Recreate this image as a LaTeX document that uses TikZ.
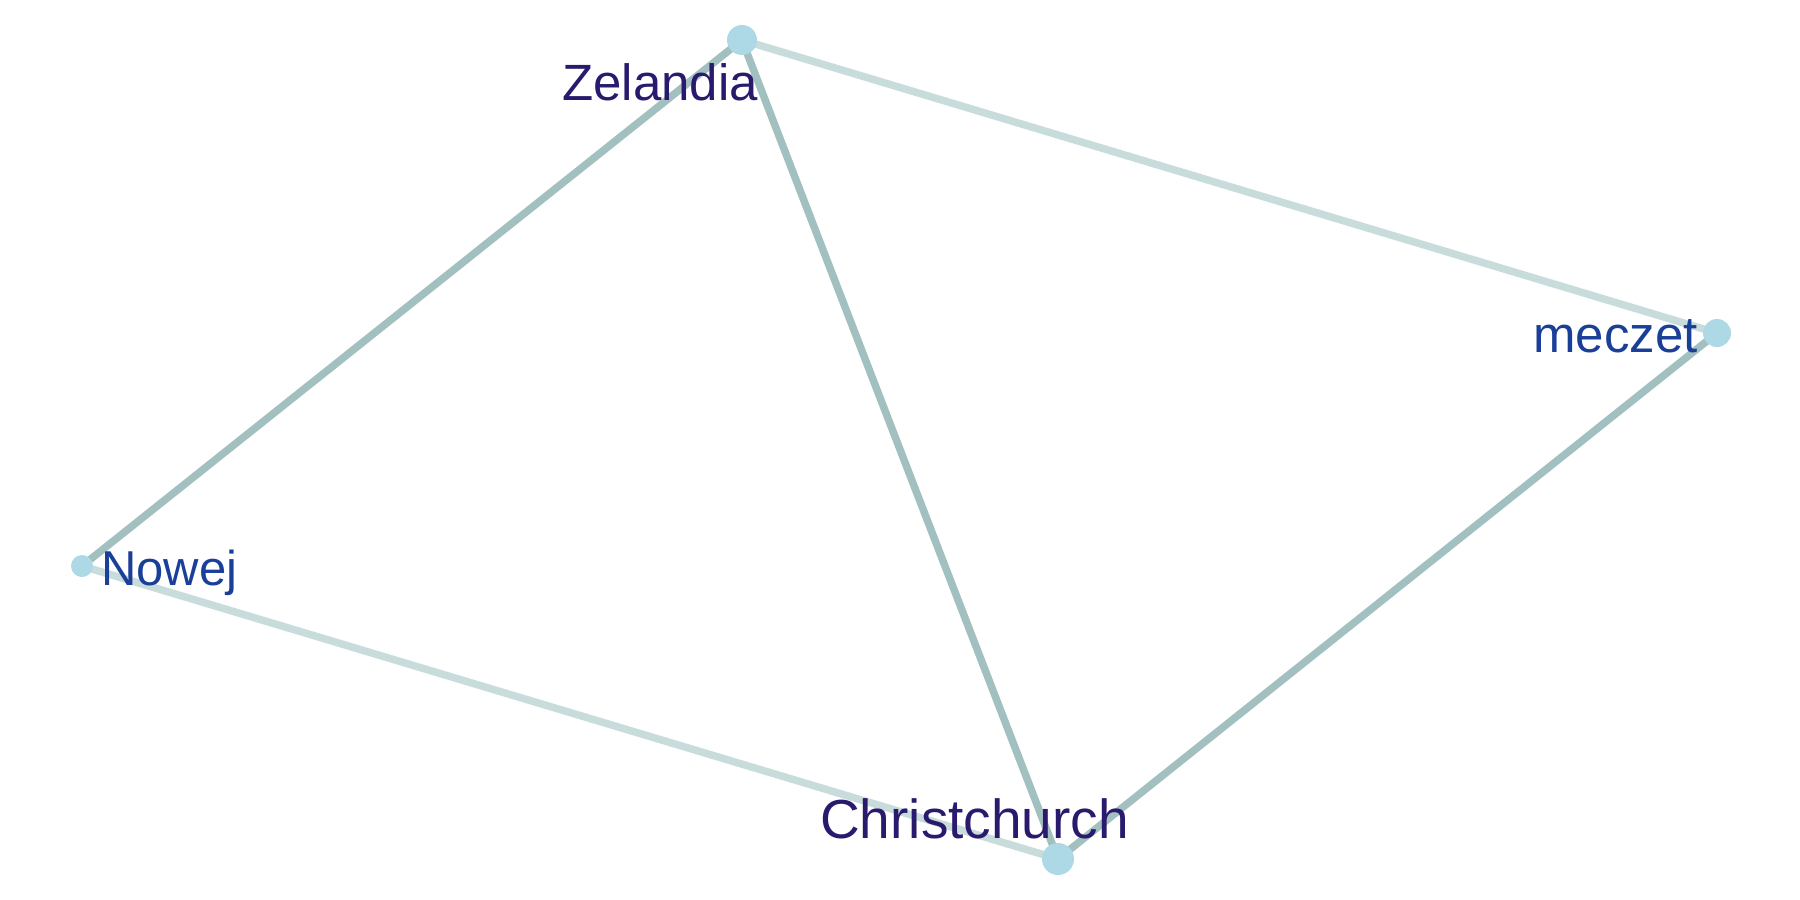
\documentclass[tikz,border=0pt]{standalone}
\usepackage{fontspec}
\setmainfont{Liberation Sans}
\usepackage{tikz}
\usetikzlibrary{positioning,backgrounds}
\definecolor{dotblue}{HTML}{ADD8E6}
\definecolor{edgedark}{HTML}{A3C0C0}
\definecolor{edgelight}{HTML}{C9DCDC}
\definecolor{inkpurple}{HTML}{2A1A6E}
\definecolor{inkblue}{HTML}{1A3F99}
\tikzset{
    word/.style={
           circle,
           fill=dotblue,
           inner sep=0pt,
           },
    tag/.style={
           inner sep=0pt,
           },
    link/.style={
           line width=7.5pt,
           },
}

\begin{document}
\begin{tikzpicture}[x=1pt,y=-1pt]

 % frame of the picture
 \useasboundingbox (0,0) rectangle (1800,900);

 % the words as dots
 \node[word,minimum size=30pt] (ZEL) at (742,40)  {};
 \node[word,minimum size=28pt] (MEC) at (1717,333) {};
 \node[word,minimum size=22pt] (NOW) at (82,566)  {};
 \node[word,minimum size=32pt] (CHR) at (1058,859) {};

 % links between the words, below the dots
 \begin{scope}[on background layer]
 \draw[link,edgelight] (ZEL.center) -- (MEC.center);
 \draw[link,edgelight] (NOW.center) -- (CHR.center);
 \draw[link,edgedark]  (ZEL.center) -- (NOW.center);
 \draw[link,edgedark]  (ZEL.center) -- (CHR.center);
 \draw[link,edgedark]  (CHR.center) -- (MEC.center);
 \end{scope}

 % labels
 \node[tag,anchor=base east,text=inkpurple,font=\fontsize{51}{51}\selectfont] (ZELtxt) at (758,100) {Zelandia};
 \node[tag,anchor=base east,text=inkblue,font=\fontsize{51}{51}\selectfont] (MECtxt) at (1698,352) {meczet};
 \node[tag,anchor=base west,text=inkblue,font=\fontsize{49}{49}\selectfont] (NOWtxt) at (101,585) {Nowej};
 \node[tag,anchor=base west,text=inkpurple,font=\fontsize{55}{55}\selectfont] (CHRtxt) at (820,838) {Christchurch};

\end{tikzpicture}
\end{document}
